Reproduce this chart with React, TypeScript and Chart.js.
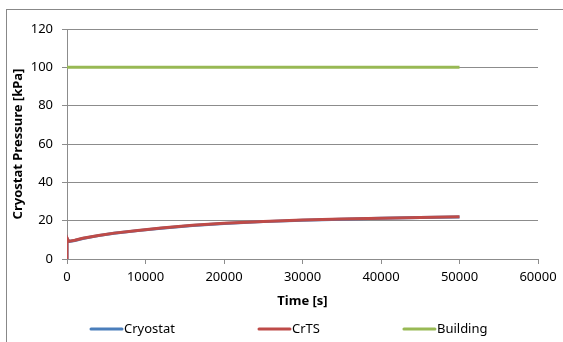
import React, { useEffect, useRef } from "react";
import { Chart, registerables } from "chart.js";

Chart.register(...registerables);

const timeS = [0, 0, 200, 1000, 2000, 4000, 6000, 9000, 12000, 16000, 20000, 25000, 30000, 35000, 40000, 45000, 50000];
const crtsKPa = [0, 11, 9.2, 9.8, 10.8, 12.3, 13.5, 14.9, 16.2, 17.6, 18.6, 19.6, 20.3, 20.9, 21.3, 21.7, 22.0];
const cryostatKPa = [0, 10.9, 9.1, 9.7, 10.7, 12.2, 13.4, 14.8, 16.1, 17.5, 18.5, 19.5, 20.2, 20.8, 21.2, 21.6, 21.9];
const buildingTime = [0, 50000];
const buildingKPa = [100, 100];
const seriesNames = ["Cryostat", "CrTS", "Building"];
const xTitle = "Time [s]";
const yTitle = "Cryostat Pressure [kPa]";

const FONT = "'Noto Sans', sans-serif";
const GRID = "#8c8c8c";

const legendPlugin = {
  id: "customLegend",
  afterDraw(chart: any) {
    const c = chart.ctx;
    const area = chart.chartArea;
    const y = 329;
    let x = area.left + 23;
    c.save();
    c.font = `13px ${FONT}`;
    c.textBaseline = "middle";
    c.textAlign = "left";
    chart.data.datasets.forEach((d: any) => {
      c.strokeStyle = d.borderColor;
      c.lineWidth = 3;
      c.lineCap = "round";
      c.beginPath();
      c.moveTo(x + 1, y);
      c.lineTo(x + 32, y);
      c.stroke();
      c.fillStyle = "#000";
      c.fillText(d.label, x + 34, y);
      x += 34 + c.measureText(d.label).width + 83;
    });
    c.restore();
  },
};

export default function App() {
  const ref = useRef<HTMLCanvasElement | null>(null);
  useEffect(() => {
    document.body.style.margin = "0";
    const ctx = ref.current!;
    const pts = (xs: number[], ys: number[]) => xs.map((x, i) => ({ x, y: ys[i] }));
    const chart = new Chart(ctx, {
      type: "line",
      data: {
        datasets: [
          { label: seriesNames[0], data: pts(timeS, cryostatKPa), borderColor: "#4A7EBB", backgroundColor: "#4A7EBB", borderWidth: 3, pointRadius: 0, tension: 0, order: 3 },
          { label: seriesNames[1], data: pts(timeS, crtsKPa), borderColor: "#BE4B48", backgroundColor: "#BE4B48", borderWidth: 3, pointRadius: 0, tension: 0, order: 2 },
          { label: seriesNames[2], data: pts(buildingTime, buildingKPa), borderColor: "#98B954", backgroundColor: "#98B954", borderWidth: 3, pointRadius: 0, tension: 0, order: 1 },
        ],
      },
      options: {
        responsive: false,
        animation: false,
        devicePixelRatio: 1,
        layout: { padding: { left: 10, top: 29, right: 25, bottom: 33 } },
        plugins: {
          tooltip: { enabled: false },
          legend: { display: false },
        },
        scales: {
          x: {
            type: "linear",
            min: 0,
            max: 60000,
            ticks: { stepSize: 10000, color: "#000", font: { family: FONT, size: 13 }, padding: 5, maxRotation: 0, callback: (v: any) => String(v) },
            grid: { drawOnChartArea: false, drawTicks: true, tickLength: 5, color: GRID },
            border: { color: GRID, width: 1 },
            title: { display: true, text: xTitle, color: "#000", font: { family: FONT, size: 13, weight: "bold" }, padding: { top: 2, bottom: 0 } },
            afterFit: (s: any) => { s.height = 50; },
          },
          y: {
            min: 0,
            max: 120,
            ticks: { stepSize: 20, color: "#000", font: { family: FONT, size: 13 }, padding: 9, callback: (v: any) => String(v) },
            grid: { color: GRID, tickLength: 5 },
            border: { color: GRID, width: 1 },
            title: { display: true, text: yTitle, color: "#000", font: { family: FONT, size: 13, weight: "bold" }, padding: { top: 0, bottom: 2 } },
            afterFit: (s: any) => { s.width = 57; },
          },
        },
      },
      plugins: [legendPlugin],
    } as any);
    return () => chart.destroy();
  }, []);
  return (
    <div style={{ position: "relative", width: 563, height: 342, background: "#fff" }}>
      <div style={{ position: "absolute", left: 6, top: 9, width: 600, height: 400, borderTop: "1px solid #888", borderLeft: "1px solid #888" }} />
      <canvas ref={ref} width={563} height={342} style={{ position: "absolute", left: 0, top: 0, width: 563, height: 342 }} />
    </div>
  );
}
